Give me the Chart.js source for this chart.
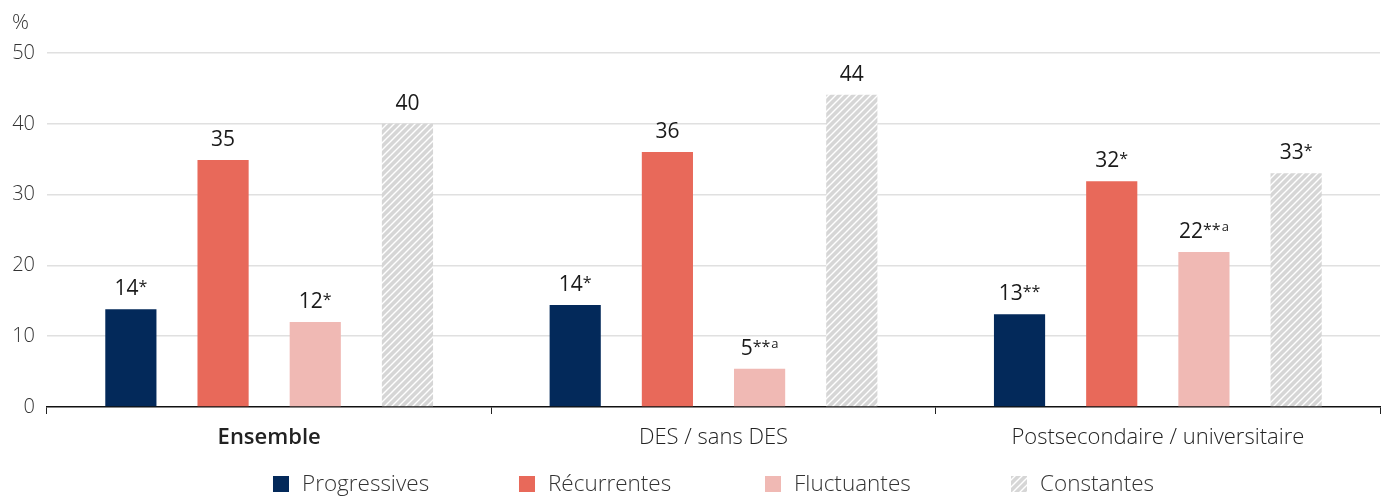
<!DOCTYPE html>
<html>
<head>
<meta charset="utf-8">
<script src="https://cdn.jsdelivr.net/npm/chart.js@4.4.1/dist/chart.umd.min.js"></script>
<style>
  body { margin: 0; background: #fff; }
  #wrap { width: 1383px; height: 496px; position: relative; }
</style>
</head>
<body>
<div id="wrap"><canvas id="myChart"></canvas></div>
<script>
// categories et séries
const categories = ['Ensemble', 'DES / sans DES', 'Postsecondaire / universitaire'];
const seriesNames = ['Progressives', 'Récurrentes', 'Fluctuantes', 'Constantes'];

const progressives = [13.8, 14.4, 13.1];
const recurrentes = [34.9, 36.0, 31.9];
const fluctuantes = [12.0, 5.4, 21.9];
const constantes = [40.0, 44.1, 33.0];

// notes affichées après les valeurs
const progStars = ['*', '*', '**'];
const recStars = ['', '', '*'];
const flucStars = ['*', '**', '**'];
const constStars = ['', '', '*'];
const flucLetters = ['', 'a', 'a'];
const noLetters = ['', '', ''];

const yTicks = [0, 10, 20, 30, 40, 50];

const FONT = "'Open Sans', 'Noto Sans', sans-serif";

// motif hachuré pour "Constantes"
function makeHatch() {
    const s = 7;
    const c = document.createElement('canvas');
    c.width = s; c.height = s;
    const g = c.getContext('2d');
    g.fillStyle = '#d6d6d6';
    g.fillRect(0, 0, s, s);
    g.strokeStyle = '#ffffff';
    g.lineWidth = 1.4;
    g.beginPath();
    g.moveTo(-1, s + 1); g.lineTo(s + 1, -1);
    g.moveTo(-1 - s, s + 1); g.lineTo(1, -1);
    g.moveTo(s - 1, s + 1); g.lineTo(2 * s + 1, -1);
    g.stroke();
    return g.createPattern(c, 'repeat');
}
const hatch = makeHatch();

const colors = ['#03295a', '#e8695a', '#f0b9b4', hatch];
const allValues = [progressives, recurrentes, fluctuantes, constantes];
const allStars = [progStars, recStars, flucStars, constStars];
const allLetters = [noLetters, noLetters, flucLetters, noLetters];

// étiquettes de valeurs au-dessus des barres
const valueLabels = {
    id: 'valueLabels',
    afterDatasetsDraw(chart) {
        const ctx = chart.ctx;
        ctx.save();
        ctx.fillStyle = '#1a1a1a';
        ctx.textBaseline = 'alphabetic';
        ctx.textAlign = 'left';
        chart.data.datasets.forEach((ds, di) => {
            const meta = chart.getDatasetMeta(di);
            meta.data.forEach((bar, i) => {
                const num = String(Math.round(ds.data[i]));
                const stars = allStars[di][i];
                const letter = allLetters[di][i];
                ctx.font = '400 21px ' + FONT;
                const wNum = ctx.measureText(num).width;
                ctx.font = '400 16px ' + FONT;
                const wStars = stars ? ctx.measureText(stars).width : 0;
                ctx.font = '400 13px ' + FONT;
                const wLet = letter ? ctx.measureText(letter).width + 1 : 0;
                const total = wNum + wStars + wLet;
                let x = bar.x - total / 2;
                const base = bar.y - 14;
                ctx.font = '400 21px ' + FONT;
                ctx.fillText(num, x, base);
                x += wNum;
                if (stars) {
                    ctx.font = '400 16px ' + FONT;
                    ctx.fillText(stars, x, base - 3);
                    x += wStars;
                }
                if (letter) {
                    ctx.font = '400 13px ' + FONT;
                    ctx.fillText(letter, x + 1, base - 7);
                }
            });
        });
        ctx.restore();
    }
};

// "%" et légende
const extras = {
    id: 'extras',
    afterDraw(chart) {
        const ctx = chart.ctx;
        const area = chart.chartArea;
        ctx.save();
        ctx.fillStyle = '#333';
        ctx.font = '300 21px ' + FONT;
        ctx.textBaseline = 'middle';
        ctx.textAlign = 'left';
        ctx.fillText('%', 12, 23);

        // légende
        ctx.font = '300 22.5px ' + FONT;
        const slot = 246;
        const box = 16;
        const lastW = box + 13 + ctx.measureText(seriesNames[seriesNames.length - 1]).width;
        const center = (area.left + area.right) / 2;
        const x0 = center - (slot * (seriesNames.length - 1) + lastW) / 2;
        const y = 484;
        seriesNames.forEach((name, i) => {
            const x = x0 + i * slot;
            ctx.fillStyle = colors[i];
            ctx.fillRect(x, y - box / 2, box, box);
            ctx.fillStyle = '#333';
            ctx.fillText(name, x + box + 13, y + 1);
        });
        ctx.restore();
    }
};

const ctx = document.getElementById('myChart').getContext('2d');
const chart = new Chart(ctx, {
    type: 'bar',
    data: {
        labels: categories,
        datasets: seriesNames.map((name, i) => ({
            label: name,
            data: allValues[i],
            backgroundColor: colors[i],
            borderWidth: 0,
            categoryPercentage: 0.83,
            barPercentage: 0.555
        }))
    },
    options: {
        responsive: true,
        maintainAspectRatio: false,
        animation: false,
        layout: { padding: { top: 53, right: 3, left: 0, bottom: 0 } },
        plugins: {
            legend: { display: false },
            tooltip: { enabled: false }
        },
        scales: {
            x: {
                grid: {
                    drawOnChartArea: false,
                    drawTicks: true,
                    tickLength: 7,
                    color: '#222',
                    lineWidth: 1
                },
                border: { display: true, color: '#111', width: 1.5 },
                ticks: {
                    padding: 11,
                    color: '#222',
                    font: (c) => ({
                        family: FONT,
                        size: 22,
                        weight: c.index === 0 ? '600' : '300'
                    })
                },
                afterFit(scale) { scale.height = 89; }
            },
            y: {
                min: 0,
                max: 50,
                afterBuildTicks(scale) {
                    scale.ticks = yTicks.map(v => ({ value: v }));
                },
                grid: {
                    drawTicks: false,
                    color: (c) => c.tick && c.tick.value === 0 ? 'rgba(0,0,0,0)' : '#e0e0e0',
                    lineWidth: 1.5
                },
                border: { display: false },
                ticks: {
                    padding: 12,
                    color: '#333',
                    font: { family: FONT, size: 20, weight: '300' }
                },
                afterFit(scale) { scale.width = 47; }
            }
        }
    },
    plugins: [valueLabels, extras]
});
</script>
</body>
</html>
